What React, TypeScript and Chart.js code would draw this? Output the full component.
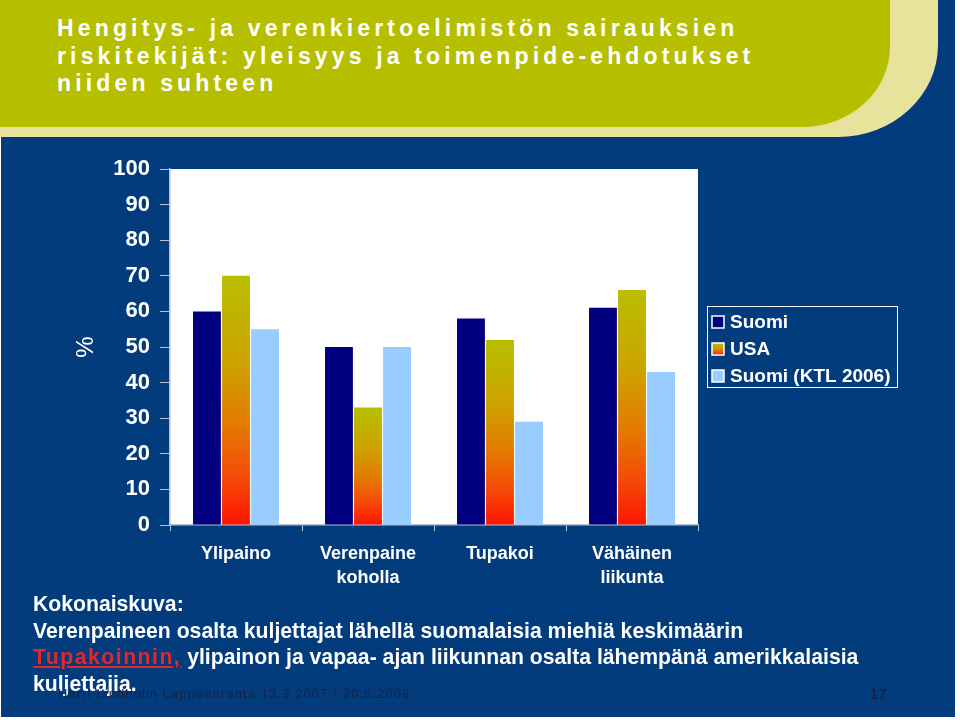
import React, { useEffect, useRef } from "react";
import { Chart, registerables } from "chart.js";

Chart.register(...registerables);

const categories: (string | string[])[] = ["Ylipaino", ["Verenpaine", "koholla"], "Tupakoi", ["Vähäinen", "liikunta"]];
const seriesNames = ["Suomi", "USA", "Suomi (KTL 2006)"];
const suomi = [60, 50, 58, 61];
const usa = [70, 33, 52, 66];
const suomiKtl = [55, 50, 29, 43];

const titleLines = [
  "Hengitys- ja verenkiertoelimistön sairauksien",
  "riskitekijät: yleisyys ja toimenpide-ehdotukset",
  "niiden suhteen",
];

const FONT = "'Liberation Sans', Arial, Helvetica, sans-serif";
const BLUE = "#023c7c";
const NAVY = "#000080";
const LIGHTBLUE = "#99ccff";

function usaGradient(ctx: CanvasRenderingContext2D, top: number, bottom: number) {
  const g = ctx.createLinearGradient(0, top, 0, bottom);
  g.addColorStop(0, "#b8be00");
  g.addColorStop(0.35, "#cda200");
  g.addColorStop(0.6, "#e47a00");
  g.addColorStop(0.8, "#f44c08");
  g.addColorStop(1, "#ff1400");
  return g;
}

const bgPlugin = {
  id: "plotBg",
  beforeDraw(chart: any) {
    const { ctx, chartArea } = chart;
    ctx.save();
    ctx.fillStyle = "#ffffff";
    ctx.fillRect(chartArea.left, chartArea.top, chartArea.right - chartArea.left, chartArea.bottom - chartArea.top);
    ctx.restore();
  },
};

const legendPlugin = {
  id: "boxLegend",
  afterDraw(chart: any) {
    const { ctx } = chart;
    ctx.save();
    ctx.strokeStyle = "#ffffff";
    ctx.lineWidth = 1;
    ctx.strokeRect(707.5, 306.5, 190, 81);
    const rows = [322, 349, 376];
    chart.data.datasets.forEach((ds: any, i: number) => {
      const y = rows[i];
      const x = 712;
      const s = 12;
      if (i === 1) ctx.fillStyle = usaGradient(ctx, y - s / 2, y + s / 2);
      else ctx.fillStyle = ds.legendColor;
      ctx.fillRect(x, y - s / 2, s, s);
      ctx.strokeStyle = "#ffffff";
      ctx.lineWidth = 1.5;
      ctx.strokeRect(x, y - s / 2, s, s);
      ctx.fillStyle = "#ffffff";
      ctx.font = `bold 19px ${FONT}`;
      ctx.textBaseline = "middle";
      ctx.textAlign = "left";
      ctx.fillText(ds.label, 730, y + 1);
    });
    ctx.restore();
  },
};

function ChartCanvas() {
  const ref = useRef<HTMLCanvasElement | null>(null);
  useEffect(() => {
    if (!ref.current) return;
    const chart = new Chart(ref.current, {
      type: "bar",
      data: {
        labels: categories,
        datasets: [
          { label: seriesNames[0], data: suomi, backgroundColor: NAVY, legendColor: NAVY } as any,
          {
            label: seriesNames[1],
            data: usa,
            legendColor: "#e47a00",
            backgroundColor: (c: any) => {
              const ch = c.chart;
              const ys = ch.scales && ch.scales.y;
              if (!ys || !ch.chartArea || c.raw === undefined) return "#e47a00";
              const top = ys.getPixelForValue(c.raw);
              const bottom = ys.getPixelForValue(0);
              return usaGradient(ch.ctx, top, bottom);
            },
          } as any,
          { label: seriesNames[2], data: suomiKtl, backgroundColor: LIGHTBLUE, legendColor: LIGHTBLUE } as any,
        ],
      },
      options: {
        responsive: false,
        animation: false,
        categoryPercentage: 0.66,
        barPercentage: 0.96,
        layout: { padding: { left: 68, top: 169, right: 262, bottom: 120 } },
        plugins: {
          legend: { display: false },
          tooltip: { enabled: false },
          title: { display: false },
        },
        scales: {
          x: {
            offset: true,
            grid: {
              display: true,
              offset: true,
              drawOnChartArea: false,
              drawTicks: true,
              tickLength: 6,
              color: "#b8c0cc",
            },
            border: { display: true, color: "#b8c0cc", width: 1.5 },
            ticks: {
              color: "#ffffff",
              padding: 11,
              font: { family: FONT, size: 18, weight: "bold", lineHeight: 1.33 },
              maxRotation: 0,
              autoSkip: false,
            },
            afterFit: (s: any) => {
              s.height = 75;
            },
          },
          y: {
            min: 0,
            max: 100,
            ticks: {
              stepSize: 10,
              color: "#ffffff",
              padding: 10,
              font: { family: FONT, size: 22, weight: "bold" },
            },
            grid: {
              display: true,
              drawOnChartArea: false,
              drawTicks: true,
              tickLength: 10,
              color: "#b8c0cc",
            },
            border: { display: true, color: "#b8c0cc", width: 1.5 },
            title: {
              display: true,
              text: "%",
              color: "#ffffff",
              font: { family: FONT, size: 24, weight: "normal" },
            },
            afterFit: (s: any) => {
              s.width = 102;
            },
          },
        },
      },
      plugins: [bgPlugin, legendPlugin],
    } as any);
    return () => chart.destroy();
  }, []);
  return (
    <canvas
      ref={ref}
      width={960}
      height={720}
      style={{ position: "absolute", left: 0, top: 0, width: 960, height: 720 }}
    />
  );
}

export default function App() {
  return (
    <div
      style={{
        position: "fixed",
        left: 0,
        top: 0,
        width: 960,
        height: 720,
        overflow: "hidden",
        background: "#ffffff",
        fontFamily: FONT,
      }}
    >
      <div style={{ position: "absolute", left: 1, top: 0, width: 954, height: 717, background: BLUE }} />
      <div
        style={{
          position: "absolute",
          left: 0,
          top: 0,
          width: 938,
          height: 137,
          background: "#e8e39c",
          borderBottomRightRadius: "100px 92px",
        }}
      />
      <div
        style={{
          position: "absolute",
          left: 0,
          top: 0,
          width: 890,
          height: 127,
          background: "#b5bf00",
          borderBottomRightRadius: "88px 80px",
        }}
      />
      <div
        style={{
          position: "absolute",
          left: 57,
          top: 15,
          color: "#ffffff",
          fontWeight: "bold",
          fontSize: 23,
          letterSpacing: "4.15px",
          lineHeight: "27.5px",
          whiteSpace: "nowrap",
        }}
      >
        {titleLines.map((t, i) => (
          <div key={i}>{t}</div>
        ))}
      </div>
      <ChartCanvas />
      <div
        style={{
          position: "absolute",
          left: 33,
          top: 591,
          color: "#ffffff",
          fontWeight: "bold",
          fontSize: 21.2,
          lineHeight: "26.5px",
          whiteSpace: "nowrap",
        }}
      >
        <div>Kokonaiskuva:</div>
        <div>Verenpaineen osalta kuljettajat lähellä suomalaisia miehiä keskimäärin</div>
        <div>
          <span style={{ color: "#e8262a", textDecoration: "underline", letterSpacing: "1.5px" }}>
            Tupakoinnin,
          </span>{" "}
          <span>ylipainon ja vapaa- ajan liikunnan osalta lähempänä amerikkalaisia</span>
        </div>
        <div>kuljettajia.</div>
      </div>
      <div
        style={{
          position: "absolute",
          left: 58,
          top: 686,
          color: "#1a2040",
          fontSize: 13,
          letterSpacing: "1.1px",
          whiteSpace: "nowrap",
        }}
      >
        Harri Lindholm Lappeenranta 13.3.2007 / 20.5.2008
      </div>
      <div
        style={{
          position: "absolute",
          left: 870,
          top: 686,
          color: "#1a2040",
          fontSize: 14,
          fontWeight: "bold",
          letterSpacing: "1px",
        }}
      >
        17
      </div>
    </div>
  );
}
